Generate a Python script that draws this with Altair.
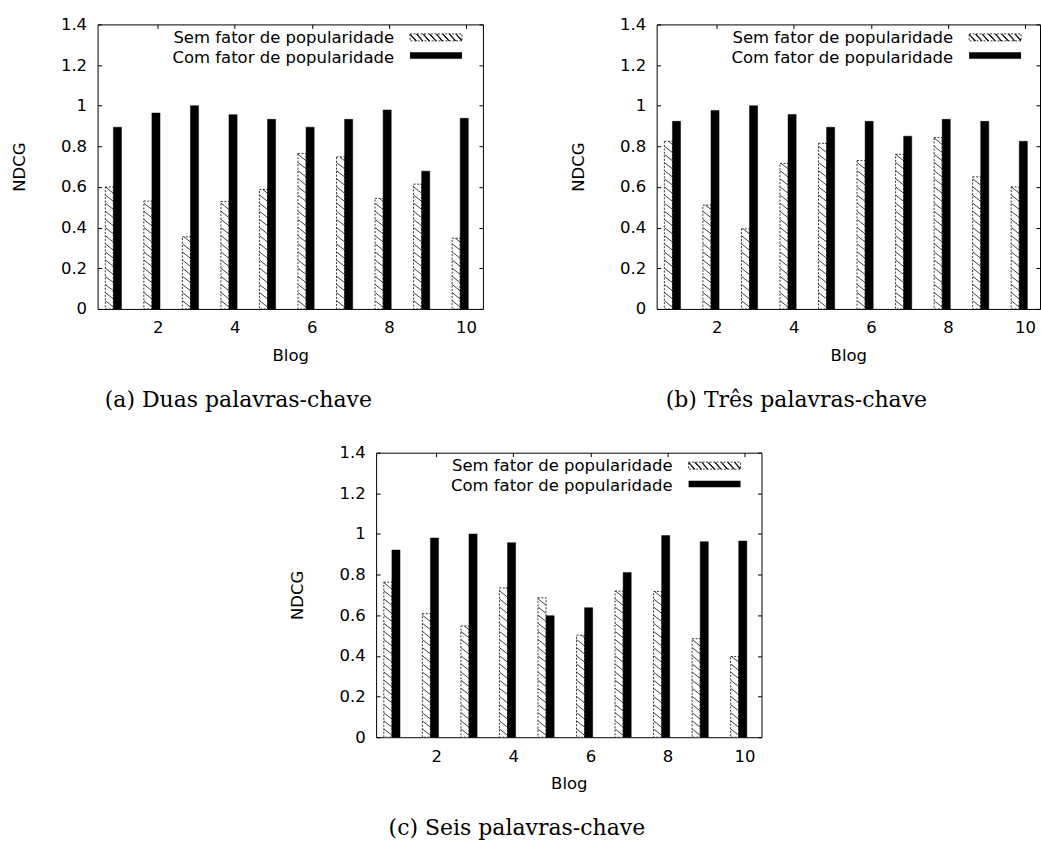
import altair as alt
import pandas as pd

# ---------------- data ----------------
blogs = [1, 2, 3, 4, 5, 6, 7, 8, 9, 10]

sem_a = [0.600, 0.531, 0.355, 0.529, 0.588, 0.765, 0.748, 0.544, 0.614, 0.348]
com_a = [0.894, 0.964, 1.000, 0.956, 0.933, 0.894, 0.933, 0.979, 0.678, 0.938]

sem_b = [0.825, 0.511, 0.394, 0.716, 0.815, 0.730, 0.761, 0.843, 0.650, 0.600]
com_b = [0.923, 0.977, 1.000, 0.957, 0.894, 0.923, 0.850, 0.933, 0.923, 0.825]

sem_c = [0.763, 0.608, 0.547, 0.735, 0.686, 0.502, 0.719, 0.717, 0.485, 0.397]
com_c = [0.921, 0.980, 1.000, 0.957, 0.598, 0.637, 0.810, 0.992, 0.962, 0.965]

series_names = ["Sem fator de popularidade", "Com fator de popularidade"]
captions = ["(a) Duas palavras-chave", "(b) Três palavras-chave", "(c) Seis palavras-chave"]
x_ticks = [2, 4, 6, 8, 10]
y_ticks = [0, 0.2, 0.4, 0.6, 0.8, 1.0, 1.2, 1.4]

# ---------------- styling ----------------
FONT = "DejaVu Sans"
FS = 16.5
W, H = 386, 285
PX_PER_UNIT = 38.6
X0 = 0.44


def legend_gradient():
    stops = [alt.GradientStop(color="white", offset=0)]
    n = 8
    for k in range(n):
        p = (k + 0.5) / n
        stops += [
            alt.GradientStop(color="white", offset=p - 0.024),
            alt.GradientStop(color="#222222", offset=p - 0.012),
            alt.GradientStop(color="#222222", offset=p + 0.012),
            alt.GradientStop(color="white", offset=p + 0.024),
        ]
    stops.append(alt.GradientStop(color="white", offset=1))
    return alt.LinearGradient(gradient="linear", stops=stops, x1=0, x2=1, y1=0.56, y2=0.44)


def make_panel(sem, com, caption, width):
    xs = alt.Scale(domain=[X0, X0 + width / PX_PER_UNIT], nice=False, zero=False)
    ys = alt.Scale(domain=[0, 1.4], nice=False)
    df = pd.DataFrame({"blog": blogs, "sem": sem, "com": com})
    base = alt.Chart(df)

    hatched = base.transform_calculate(
        xa="datum.blog - 0.36", xb="datum.blog - 0.15", y0="0"
    ).mark_rect(fill="white", stroke="#222222", strokeDash=[2, 1.5], strokeWidth=0.9).encode(
        x=alt.X("xa:Q", scale=xs, axis=alt.Axis(
            orient="bottom", values=x_ticks, format="d", title="Blog",
            offset=-4, tickSize=4, labelPadding=11, titlePadding=11)),
        x2="xb:Q",
        y=alt.Y("sem:Q", scale=ys, axis=alt.Axis(
            orient="left", values=y_ticks, format="~g", title="NDCG",
            offset=-4, tickSize=4, labelPadding=11, titlePadding=33)),
        y2="y0:Q",
    )

    hatch = base.transform_calculate(
        seq="sequence(-0.03, datum.sem, 0.04)"
    ).transform_flatten(["seq"]).transform_calculate(
        up="datum.seq + 0.03"
    ).transform_calculate(
        t0="max(0, (datum.up - datum.sem) / 0.03)",
        t1="min(1, datum.up / 0.03)",
    ).transform_filter("datum.t0 < datum.t1").transform_calculate(
        hx1="datum.blog - 0.355 + datum.t0 * 0.2",
        hy1="datum.up - datum.t0 * 0.03",
        hx2="datum.blog - 0.355 + datum.t1 * 0.2",
        hy2="datum.up - datum.t1 * 0.03",
    ).mark_rule(stroke="#111111", strokeWidth=0.8).encode(
        x=alt.X("hx1:Q", scale=xs, axis=None),
        x2="hx2:Q",
        y=alt.Y("hy1:Q", scale=ys, axis=None),
        y2="hy2:Q",
    )

    black = base.transform_calculate(
        xa="datum.blog - 0.15", xb="datum.blog + 0.06", y0="0"
    ).mark_rect(fill="black", stroke="black", strokeWidth=0.5).encode(
        x=alt.X("xa:Q", scale=xs, axis=alt.Axis(
            orient="top", values=x_ticks, labels=False, title=None,
            offset=-4, tickSize=4)),
        x2="xb:Q",
        y=alt.Y("com:Q", scale=ys, axis=alt.Axis(
            orient="right", values=y_ticks, labels=False, title=None,
            offset=-4, tickSize=4)),
        y2="y0:Q",
    )

    lt1 = alt.Chart(pd.DataFrame({"t": [series_names[0]]})).mark_text(
        align="right", baseline="middle", font=FONT, fontSize=FS, color="black"
    ).encode(x=alt.value(297), y=alt.value(13.7), text="t:N")
    lt2 = alt.Chart(pd.DataFrame({"t": [series_names[1]]})).mark_text(
        align="right", baseline="middle", font=FONT, fontSize=FS, color="black"
    ).encode(x=alt.value(297), y=alt.value(33.7), text="t:N")
    ls1 = alt.Chart(pd.DataFrame({"t": [series_names[0]]})).mark_rect(
        fill=legend_gradient(), stroke="#222222", strokeDash=[2, 1.5], strokeWidth=0.9
    ).encode(x=alt.value(313), x2=alt.value(365), y=alt.value(9.5), y2=alt.value(16.5))
    ls2 = alt.Chart(pd.DataFrame({"t": [series_names[1]]})).mark_rect(
        fill="black"
    ).encode(x=alt.value(313), x2=alt.value(365), y=alt.value(28), y2=alt.value(34.5))

    return alt.layer(hatched, hatch, black, lt1, lt2, ls1, ls2).resolve_axis(
        x="independent", y="independent"
    ).properties(
        width=width, height=H,
        title=alt.TitleParams(
            text=caption, orient="bottom", anchor="middle", frame="group", dx=-52,
            offset=26, font="DejaVu Serif", fontSize=22, fontWeight="normal",
            color="black", baseline="top",
        ),
    )


pa = make_panel(sem_a, com_a, captions[0], W)
pb = make_panel(sem_b, com_b, captions[1], 384)
pc = make_panel(sem_c, com_c, captions[2], W)

chart = alt.vconcat(
    alt.hconcat(pa, pb, spacing=86),
    pc,
    spacing=32,
    center=True,
).properties(
    padding={"left": 10.75, "top": 14.75, "right": 0, "bottom": 0},
    background="white",
).configure_view(
    stroke="black", strokeWidth=1
).configure_axis(
    labelFont=FONT, labelFontSize=FS, labelColor="black",
    titleFont=FONT, titleFontSize=FS, titleFontWeight="normal", titleColor="black",
    tickColor="black", tickWidth=1, grid=False, domain=False,
)

chart.save("out.html", embed_options={"renderer": "svg", "actions": False})
